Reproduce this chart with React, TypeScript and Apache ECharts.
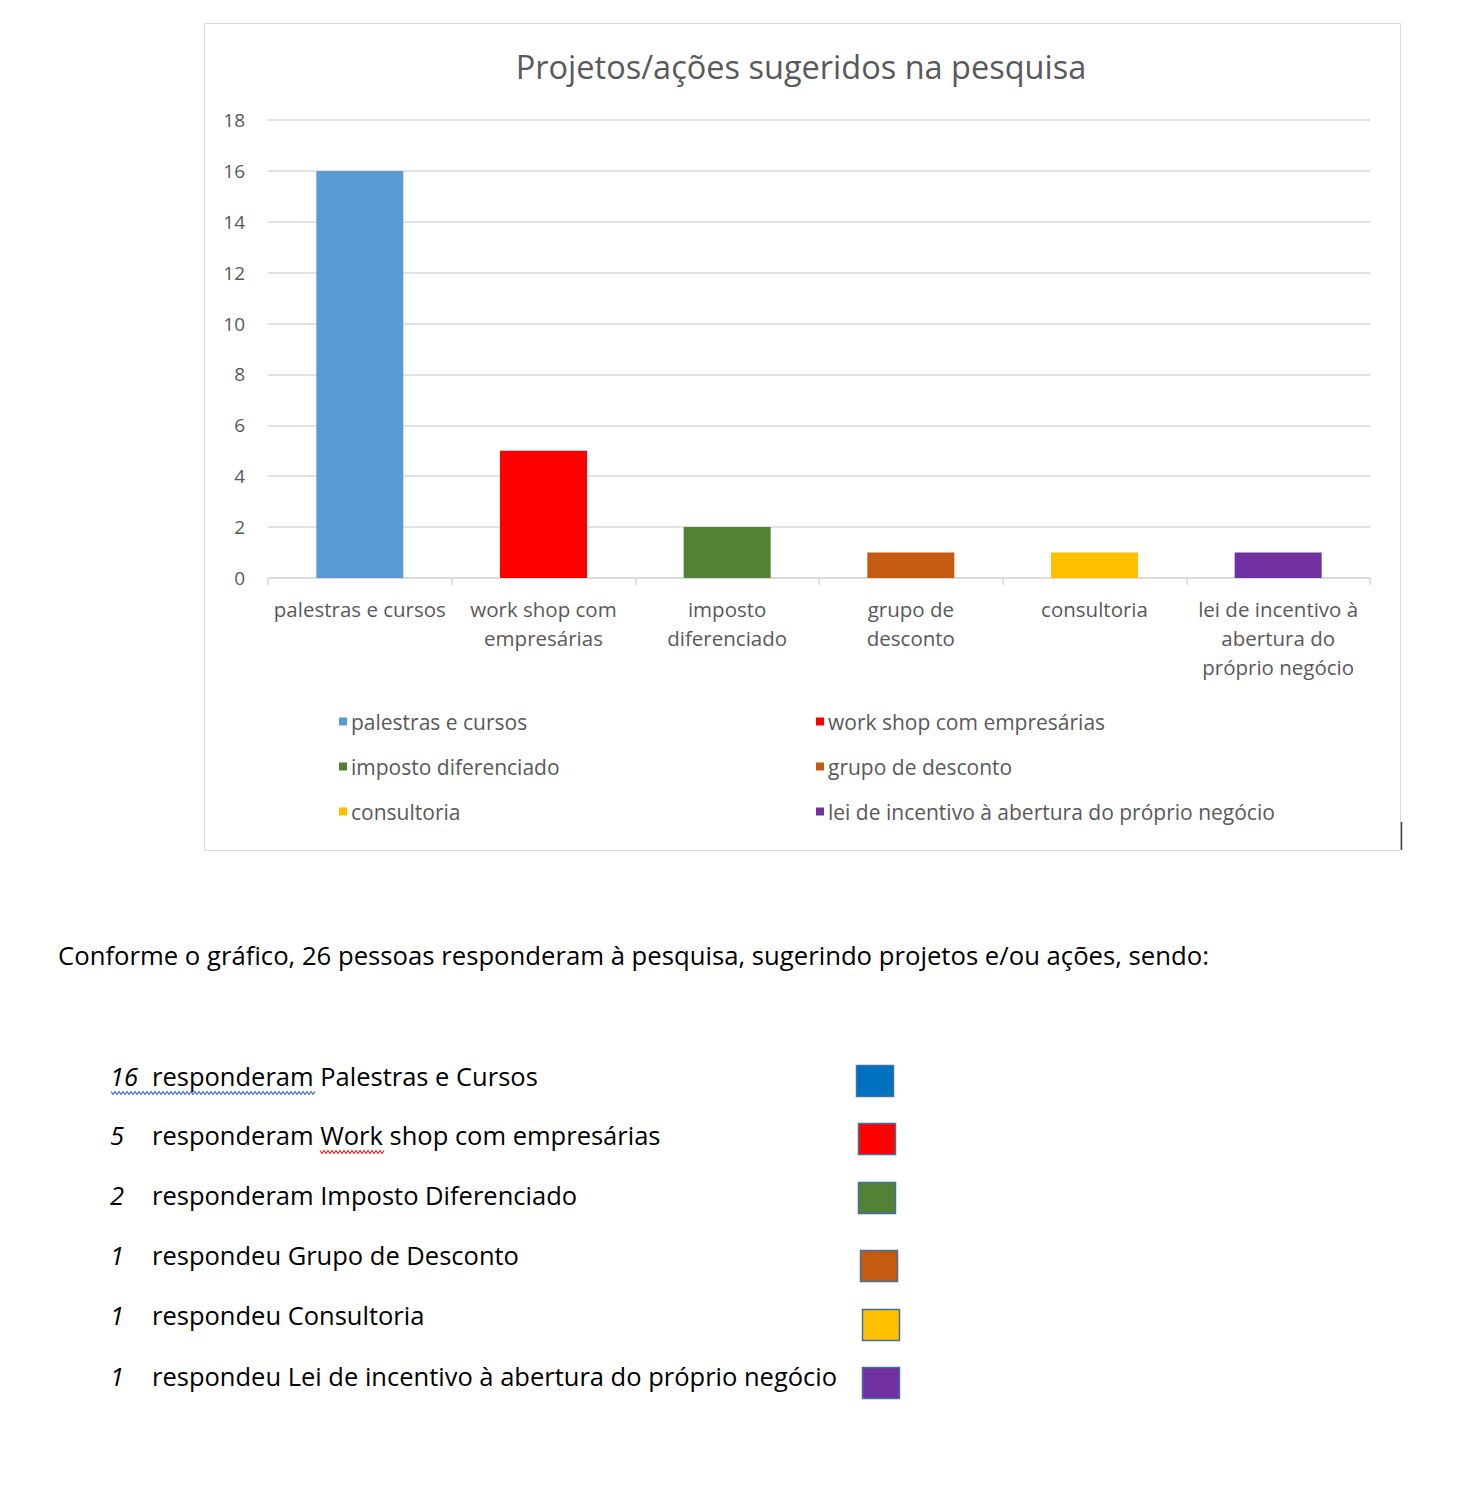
import React, { useEffect, useRef } from "react";
import * as echarts from "echarts";

// ---- data ----
const chartTitle = "Projetos/ações sugeridos na pesquisa";
const categories = [
  "palestras e cursos",
  "work shop com empresárias",
  "imposto diferenciado",
  "grupo de desconto",
  "consultoria",
  "lei de incentivo à abertura do próprio negócio",
];
const tickLabels = [
  "palestras e cursos",
  "work shop com\nempresárias",
  "imposto\ndiferenciado",
  "grupo de\ndesconto",
  "consultoria",
  "lei de incentivo à\nabertura do\npróprio negócio",
];
const values = [16, 5, 2, 1, 1, 1];
const barColors = ["#5B9BD5", "#FF0000", "#548235", "#C55A11", "#FFC000", "#7030A0"];
const yMin = 0;
const yMax = 18;
const yStep = 2;

const summaryText =
  "Conforme o gráfico, 26 pessoas responderam à pesquisa, sugerindo projetos e/ou ações, sendo:";
const listLabels = [
  "Palestras e Cursos",
  "Work shop com empresárias",
  "Imposto Diferenciado",
  "Grupo de Desconto",
  "Consultoria",
  "Lei de incentivo à abertura do próprio negócio",
];
const listVerbs = ["responderam", "responderam", "responderam", "respondeu", "respondeu", "respondeu"];
const swatchColors = ["#0070C0", "#FF0000", "#538135", "#C55A11", "#FFC000", "#7030A0"];

// ---- layout ----
const W = 1472;
const H = 1486;
const FONT = "'Open Sans', 'Noto Sans', sans-serif";
const legendCols = [334, 811];
const legendRows = [706, 751, 796];
const listRowsY = [1076, 1135, 1195, 1255, 1315, 1376];
const swatchPos = [
  [856, 1065],
  [858, 1123],
  [858, 1182],
  [860, 1250],
  [862, 1309],
  [862, 1367],
];

function wavy(x0: number, x1: number, y: number): number[][] {
  const pts: number[][] = [];
  let up = true;
  for (let x = x0; x <= x1; x += 2) {
    pts.push([x, up ? y - 1.5 : y + 1.5]);
    up = !up;
  }
  return pts;
}

export default function App() {
  const ref = useRef<HTMLDivElement>(null);

  useEffect(() => {
    if (!ref.current) return;
    const chart = echarts.init(ref.current, null, { renderer: "svg" });

    const series = categories.map((name, i) => ({
      name,
      type: "bar",
      stack: "all",
      barWidth: 87,
      itemStyle: { color: barColors[i] },
      data: values.map((v, j) => (j === i ? v : "-")),
    }));

    const legends = categories.map((name, i) => ({
      data: [name],
      left: legendCols[i % 2],
      top: legendRows[Math.floor(i / 2)],
      icon: "rect",
      itemWidth: 8,
      itemHeight: 8,
      itemGap: 4,
      selectedMode: false,
      textStyle: { fontFamily: FONT, fontSize: 21, color: "#595959", padding: [0, 0, 0, -1] },
    }));

    const graphics: any[] = [
      {
        type: "rect",
        shape: { x: 204.5, y: 23.5, width: 1196, height: 827 },
        style: { fill: "none", stroke: "#d9d9d9", lineWidth: 1 },
        z: -10,
      },
      {
        type: "line",
        shape: { x1: 1401.5, y1: 822, x2: 1401.5, y2: 850 },
        style: { stroke: "#404040", lineWidth: 1.5 },
      },
      {
        type: "text",
        x: 58,
        y: 955,
        style: {
          text: summaryText,
          fontFamily: FONT,
          fontSize: 25.7,
          fill: "#000000",
          textVerticalAlign: "middle",
          verticalAlign: "middle",
        },
      },
    ];

    values.forEach((v, i) => {
      const y = listRowsY[i];
      graphics.push({
        type: "text",
        x: 110,
        y,
        style: {
          text: String(v),
          fontFamily: FONT,
          fontSize: 25.5,
          fontStyle: "italic",
          fill: "#000000",
          textVerticalAlign: "middle",
          verticalAlign: "middle",
        },
      });
      graphics.push({
        type: "text",
        x: 152,
        y,
        style: {
          text: listVerbs[i] + " " + listLabels[i],
          fontFamily: FONT,
          fontSize: 25.5,
          fill: "#000000",
          textVerticalAlign: "middle",
          verticalAlign: "middle",
        },
      });
      graphics.push({
        type: "rect",
        shape: { x: swatchPos[i][0] + 0.5, y: swatchPos[i][1] + 0.5, width: 37, height: 31 },
        style: { fill: swatchColors[i], stroke: "#41719C", lineWidth: 1.5 },
      });
    });

    graphics.push({
      type: "polyline",
      shape: { points: wavy(111, 316, 1093) },
      style: { stroke: "#4472C4", lineWidth: 1.2, fill: "none" },
    });
    graphics.push({
      type: "polyline",
      shape: { points: wavy(320, 385, 1152) },
      style: { stroke: "#E03030", lineWidth: 1.2, fill: "none" },
    });

    chart.setOption({
      animation: false,
      backgroundColor: "#ffffff",
      title: {
        text: chartTitle,
        left: 796,
        top: 45,
        textAlign: "center",
        textStyle: { fontFamily: FONT, fontSize: 32.5, fontWeight: "normal", color: "#595959" },
      },
      legend: legends,
      grid: { left: 268, right: W - 1370, top: 120, bottom: H - 578, containLabel: false },
      xAxis: {
        type: "category",
        data: categories,
        axisLine: { lineStyle: { color: "#d9d9d9", width: 1.5 } },
        axisTick: { show: true, length: 7, lineStyle: { color: "#d9d9d9", width: 1.5 } },
        axisLabel: {
          interval: 0,
          margin: 16,
          fontFamily: FONT,
          fontSize: 20.5,
          lineHeight: 29,
          color: "#595959",
          formatter: (_: string, idx: number) => tickLabels[idx],
        },
      },
      yAxis: {
        type: "value",
        min: yMin,
        max: yMax,
        interval: yStep,
        axisLine: { show: false },
        axisTick: { show: false },
        splitLine: { lineStyle: { color: "#d9d9d9", width: 1.5 } },
        axisLabel: { margin: 23, fontFamily: FONT, fontSize: 19, color: "#595959" },
      },
      series,
      graphic: graphics,
    });

    return () => chart.dispose();
  }, []);

  return (
    <div
      ref={ref}
      style={{ position: "absolute", left: 0, top: 0, width: W, height: H, background: "#fff" }}
    />
  );
}
